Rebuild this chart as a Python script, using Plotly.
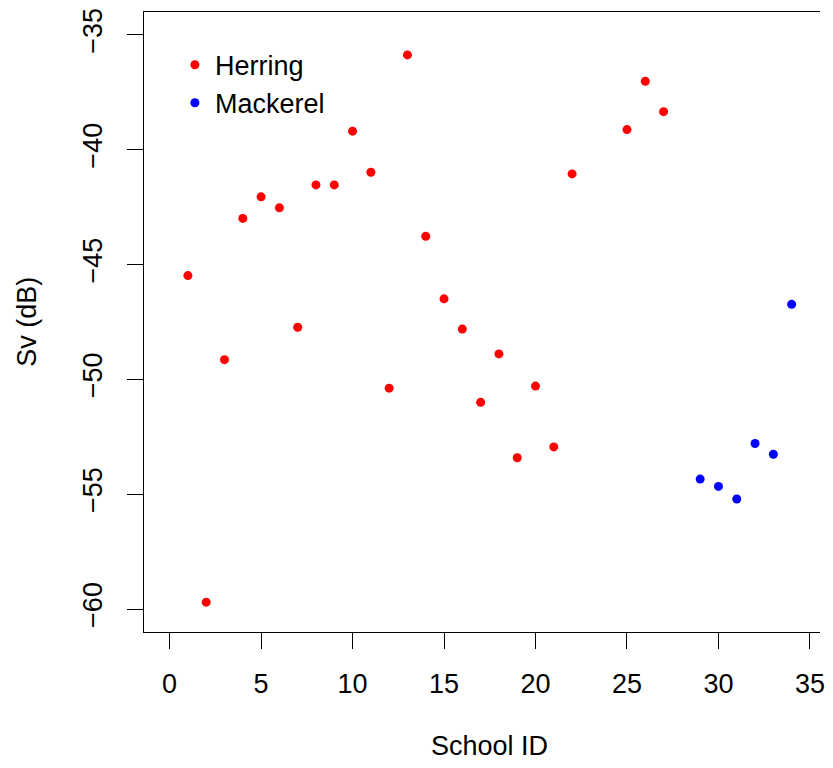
import plotly.graph_objects as go

herring_id = [1, 2, 3, 4, 5, 6, 7, 8, 9, 10, 11, 12, 13, 14, 15, 16, 17, 18, 19, 20, 21, 22, 25, 26, 27]
herring_sv = [-45.48, -59.70, -49.14, -42.99, -42.05, -42.53, -47.73, -41.53, -41.53, -39.19,
              -40.98, -50.38, -35.87, -43.77, -46.49, -47.81, -51.00, -48.89, -53.41, -50.29,
              -52.94, -41.05, -39.12, -37.02, -38.34]
mackerel_id = [29, 30, 31, 32, 33, 34]
mackerel_sv = [-54.34, -54.66, -55.21, -52.79, -53.26, -46.73]

x_ticks = [0, 5, 10, 15, 20, 25, 30, 35]
y_ticks = [-60, -55, -50, -45, -40, -35]

FONT = "Liberation Sans, Arial, sans-serif"
FS = 27

fig = go.Figure()
fig.add_trace(go.Scatter(x=herring_id, y=herring_sv, mode="markers", name="Herring",
                         marker=dict(color="#FF0000", size=9, line=dict(width=0))))
fig.add_trace(go.Scatter(x=mackerel_id, y=mackerel_sv, mode="markers", name="Mackerel",
                         marker=dict(color="#0000FF", size=9, line=dict(width=0))))

axis_common = dict(showgrid=False, zeroline=False, showline=True, linecolor="black", linewidth=1.2,
                   ticks="outside", ticklen=16, tickwidth=1.2, tickcolor="black",
                   ticklabeloverflow="allow",
                   tickfont=dict(family=FONT, size=FS, color="black"))

fig.update_layout(
    width=817, height=752,
    margin=dict(l=136, r=0, t=1, b=128),
    paper_bgcolor="white", plot_bgcolor="white",
    font=dict(family=FONT, size=FS, color="black"),
    xaxis=dict(range=[-1.4, 35.55], tickvals=x_ticks, mirror=True, ticklabelstandoff=11, **axis_common),
    yaxis=dict(range=[-61, -34], tickvals=y_ticks, tickangle=-90, ticklabelstandoff=14, **axis_common),
    showlegend=True,
    legend=dict(x=0.0457, y=0.9538, xanchor="left", yanchor="top", bgcolor="rgba(0,0,0,0)",
                font=dict(family=FONT, size=FS, color="black"), itemwidth=30, tracegroupgap=0),
    annotations=[
        dict(text="School ID", xref="paper", yref="paper", x=0.5110, y=-0.1846,
             xanchor="center", yanchor="middle", showarrow=False,
             font=dict(family=FONT, size=FS, color="black")),
        dict(text="Sv (dB)", xref="paper", yref="paper", x=-0.1733, y=0.5, textangle=-90,
             xanchor="center", yanchor="middle", showarrow=False,
             font=dict(family=FONT, size=FS, color="black")),
    ],
)

fig.write_html("out.html")
